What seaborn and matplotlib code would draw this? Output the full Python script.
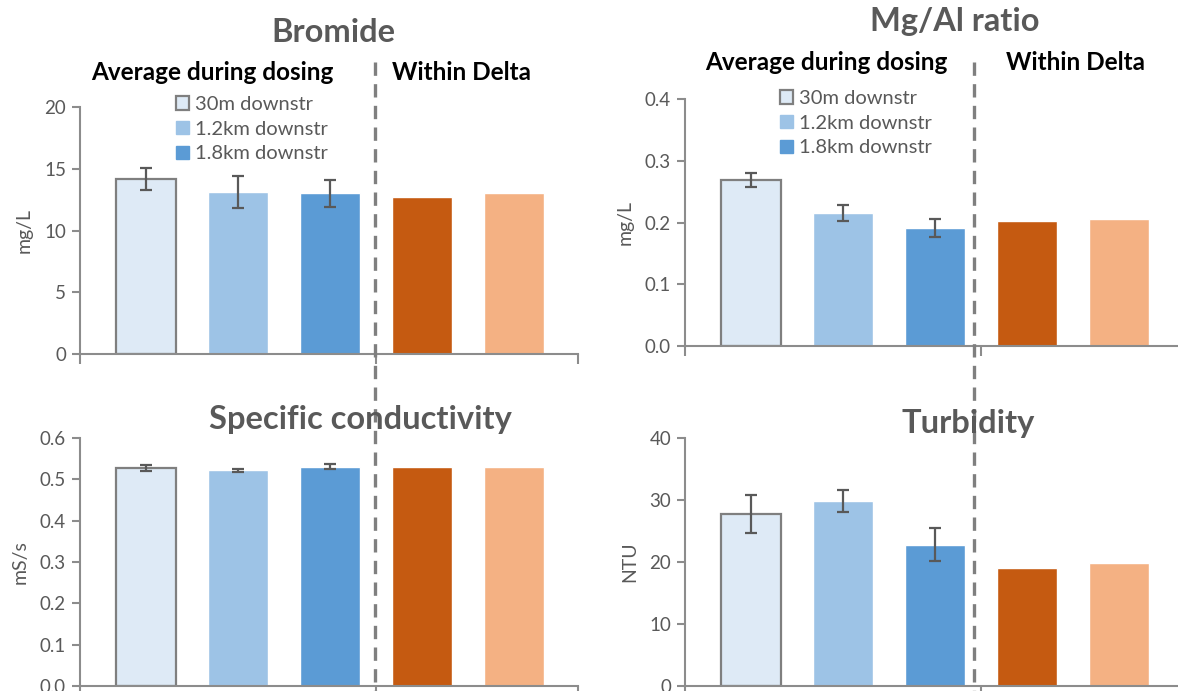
import matplotlib
matplotlib.use("Agg")
import matplotlib.pyplot as plt
import matplotlib.transforms as mtransforms
from matplotlib.lines import Line2D
from matplotlib.patches import Patch
import seaborn as sns
import pandas as pd

sns.set_theme(style="white")
plt.rcParams['font.family'] = ['Lato', 'DejaVu Sans']

# ---------------- data ----------------
categories = ["30m downstr", "1.2km downstr", "1.8km downstr", "Delta A", "Delta B"]
colors = ["#DEEAF6", "#9DC3E6", "#5B9BD5", "#C55A11", "#F4B183"]

bromide_vals = [14.2, 13.1, 13.0, 12.7, 13.0]
bromide_err = [0.9, 1.3, 1.1, None, None]

mgal_vals = [0.269, 0.215, 0.191, 0.202, 0.205]
mgal_err = [0.011, 0.013, 0.014, None, None]

cond_vals = [0.527, 0.522, 0.531, 0.531, 0.531]
cond_err = [0.008, 0.004, 0.006, None, None]

turb_vals = [27.7, 29.8, 22.8, 19.0, 19.9]
turb_err = [3.1, 1.8, 2.7, None, None]

panels = [
    dict(title="Bromide", vals=bromide_vals, err=bromide_err, ylabel="mg/L",
         yticks=[0, 5, 10, 15, 20], fmt="{:.0f}"),
    dict(title="Mg/Al ratio", vals=mgal_vals, err=mgal_err, ylabel="mg/L",
         yticks=[0.0, 0.1, 0.2, 0.3, 0.4], fmt="{:.1f}"),
    dict(title="Specific conductivity", vals=cond_vals, err=cond_err, ylabel="mS/s",
         yticks=[0.0, 0.1, 0.2, 0.3, 0.4, 0.5, 0.6], fmt="{:.1f}"),
    dict(title="Turbidity", vals=turb_vals, err=turb_err, ylabel="NTU",
         yticks=[0, 10, 20, 30, 40], fmt="{:.0f}"),
]

W, H = 1178, 691
fig = plt.figure(figsize=(W / 100, H / 100), dpi=100)

def fx(px):
    return px / W

def fy(py):
    return 1 - py / H

# axes rectangles in pixels: left, top, right, bottom
rects = [
    (80, 107, 578, 354),
    (685, 99, 1183, 346),
    (80, 438, 578, 686),
    (685, 438, 1183, 686),
]

GRAY = "#595959"
AXC = "#8C8C8C"
axes = []
for p, (l, t, r, b) in zip(panels, rects):
    ax = fig.add_axes([fx(l), fy(b), fx(r - l), (b - t) / H])
    df = pd.DataFrame({"cat": categories, "val": p["vals"]})
    sns.barplot(data=df, x="cat", y="val", hue="cat", palette=colors,
                order=categories, hue_order=categories, legend=False,
                width=0.65, ax=ax, saturation=1)
    ax.patches[0].set_edgecolor("#7F7F7F")
    ax.patches[0].set_linewidth(1.6)
    for i, e in enumerate(p["err"]):
        if e is not None:
            ax.errorbar(i, p["vals"][i], yerr=e, fmt="none", ecolor="#595959",
                        elinewidth=1.6, capsize=4.5, capthick=1.6, zorder=5)
    ax.set_xlim(-0.72, 4.70)
    ax.set_ylim(p["yticks"][0], p["yticks"][-1])
    ax.set_yticks(p["yticks"])
    ax.set_yticklabels([p["fmt"].format(v) for v in p["yticks"]])
    ax.set_xticks([-0.72, 2.5, 4.70])
    ax.set_xticklabels([])
    ax.set_xlabel("")
    ax.set_ylabel(p["ylabel"], color=GRAY, fontsize=14, labelpad=8)
    for s in ["top", "right"]:
        ax.spines[s].set_visible(False)
    for s in ["left", "bottom"]:
        ax.spines[s].set_color(AXC)
        ax.spines[s].set_linewidth(1.5)
    ax.tick_params(axis="y", which="both", left=True, length=6, width=1.5,
                   color=AXC, labelcolor=GRAY, labelsize=13.5, pad=4)
    ax.tick_params(axis="x", which="both", bottom=True, length=7, width=1.5,
                   color=AXC)
    axes.append(ax)

# titles
title_pos = [(333, 32), (955, 22), (360, 420), (968, 424)]
for p, (tx, ty) in zip(panels, title_pos):
    fig.text(fx(tx), fy(ty), p["title"], ha="center", va="center",
             fontsize=23.5, fontweight="bold", color=GRAY, zorder=12)

# section headings
for cx_avg, cx_del, cy in [(212, 462, 72), (826, 1076, 63)]:
    fig.text(fx(cx_avg), fy(cy), "Average during dosing", ha="center", va="center",
             fontsize=17.5, fontweight="bold", color="black", zorder=12)
    fig.text(fx(cx_del), fy(cy), "Within Delta", ha="center", va="center",
             fontsize=17.5, fontweight="bold", color="black", zorder=12)

# dashed separators spanning the column
for ax_top, xpos in [(axes[0], 2.49), (axes[1], 2.43)]:
    tr = mtransforms.blended_transform_factory(ax_top.transData, fig.transFigure)
    fig.add_artist(Line2D([xpos, xpos], [fy(62), 0], transform=tr,
                          color="#7F7F7F", lw=2.4, linestyle=(0, (4, 2.5)),
                          zorder=10))

# legends
handles = [Patch(facecolor=colors[0], edgecolor="#7F7F7F", linewidth=1.6,
                 label=categories[0]),
           Patch(facecolor=colors[1], edgecolor=colors[1], label=categories[1]),
           Patch(facecolor=colors[2], edgecolor=colors[2], label=categories[2])]
for ax, (lx, ly) in [(axes[0], (162, 82)), (axes[1], (766, 76))]:
    leg = ax.legend(handles=handles, loc="upper left",
                    bbox_to_anchor=(fx(lx), fy(ly)),
                    bbox_transform=fig.transFigure, frameon=False,
                    fontsize=14.5, handlelength=0.62, handleheight=0.62,
                    handletextpad=0.3, labelspacing=0.38, borderpad=0.2)
    for t in leg.get_texts():
        t.set_color(GRAY)

fig.savefig("out.png", dpi=100)
